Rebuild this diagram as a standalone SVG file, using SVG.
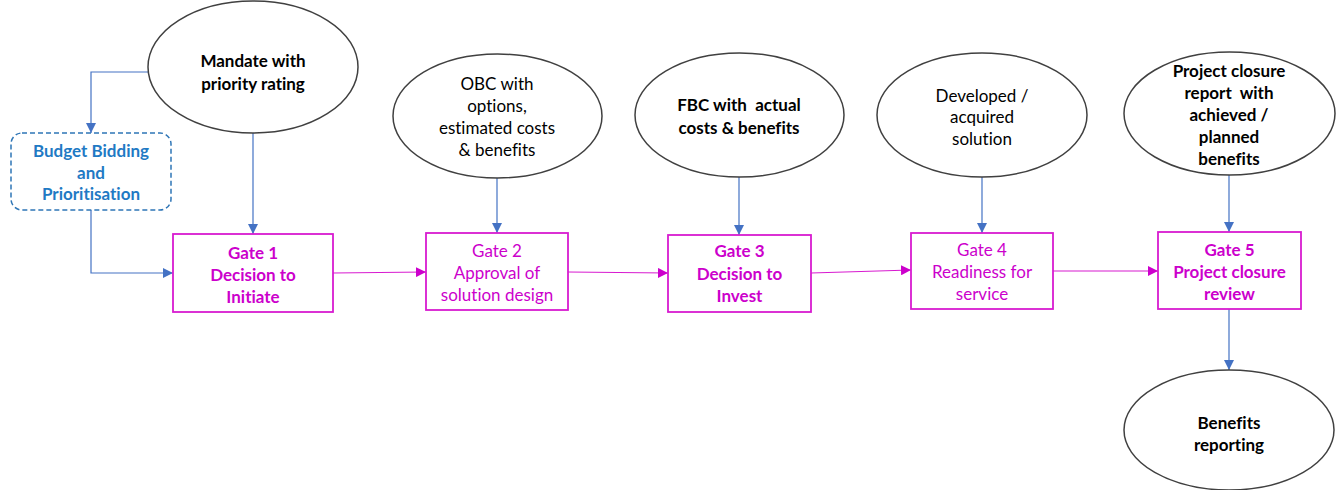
<svg xmlns="http://www.w3.org/2000/svg" width="1343" height="490" viewBox="0 0 1343 490">
<style>
text{font-family:Lato,"Open Sans","Liberation Sans",sans-serif;font-size:17px;text-anchor:middle;font-variant-ligatures:none}
.b{font-weight:bold}
.pre{white-space:pre}
.ell{fill:#fff;stroke:#404040;stroke-width:1.5}
.gate{fill:#fff;stroke:#D81BD0;stroke-width:1.8}
.gt{fill:#CC00CC}
.blue{stroke:#4472C4;stroke-width:1.2;fill:none}
.mag{stroke:#D81BD0;stroke-width:1.2;fill:none}
</style>
<defs>
<marker id="ab" viewBox="0 0 10 10" refX="10" refY="5" markerWidth="10" markerHeight="10" markerUnits="userSpaceOnUse" orient="auto"><path d="M0,0L10,5L0,10z" fill="#4472C4"/></marker>
<marker id="am" viewBox="0 0 10 10" refX="10" refY="5" markerWidth="10" markerHeight="10" markerUnits="userSpaceOnUse" orient="auto"><path d="M0,0L10,5L0,10z" fill="#CC00CC"/></marker>
</defs>
<g id="connectors">
<path class="blue" d="M148,72H91V133" marker-end="url(#ab)"/>
<path class="blue" d="M91,210V273H173" marker-end="url(#ab)"/>
<path class="blue" d="M253,133V234" marker-end="url(#ab)"/>
<path class="blue" d="M497,178V233" marker-end="url(#ab)"/>
<path class="blue" d="M739,177V235" marker-end="url(#ab)"/>
<path class="blue" d="M982,177V233" marker-end="url(#ab)"/>
<path class="blue" d="M1229,175V232" marker-end="url(#ab)"/>
<path class="blue" d="M1229,309V370" marker-end="url(#ab)"/>
<path class="mag" d="M333,273L426,272" marker-end="url(#am)"/>
<path class="mag" d="M568,272L668,273" marker-end="url(#am)"/>
<path class="mag" d="M811,273L911,270" marker-end="url(#am)"/>
<path class="mag" d="M1053,271H1158" marker-end="url(#am)"/>
</g>
<g id="mandate">
<ellipse class="ell" cx="253" cy="67" rx="105" ry="66"/>
<text class="b" x="253" y="67">Mandate with</text>
<text class="b" x="253" y="90">priority rating</text>
</g>
<g id="budget">
<rect x="11" y="133" width="160" height="77" rx="11" fill="#fff" stroke="#2E75B6" stroke-width="1.5" stroke-dasharray="5,3"/>
<text class="b" x="91" y="157" fill="#1F7AC4">Budget Bidding</text>
<text class="b" x="91" y="179" fill="#1F7AC4">and</text>
<text class="b" x="91" y="200" fill="#1F7AC4">Prioritisation</text>
</g>
<g id="obc">
<ellipse class="ell" cx="497.5" cy="116" rx="104.5" ry="62"/>
<text x="497" y="90">OBC with</text>
<text x="497" y="112">options,</text>
<text x="497" y="134">estimated costs</text>
<text x="497" y="156">&amp; benefits</text>
</g>
<g id="fbc">
<ellipse class="ell" cx="739.5" cy="115" rx="104.5" ry="62"/>
<text class="b pre" x="739" y="111">FBC with  actual</text>
<text class="b" x="739" y="134">costs &amp; benefits</text>
</g>
<g id="developed">
<ellipse class="ell" cx="982" cy="115" rx="105" ry="62"/>
<text x="982" y="102">Developed /</text>
<text x="982" y="123">acquired</text>
<text x="982" y="145">solution</text>
</g>
<g id="closure-report">
<ellipse class="ell" cx="1229.5" cy="113.5" rx="105.5" ry="61.5"/>
<text class="b" x="1229" y="77">Project closure</text>
<text class="b pre" x="1229" y="99">report  with</text>
<text class="b" x="1229" y="121">achieved /</text>
<text class="b" x="1229" y="143">planned</text>
<text class="b" x="1229" y="165">benefits</text>
</g>
<g id="benefits">
<ellipse class="ell" cx="1229" cy="430" rx="105" ry="60"/>
<text class="b" x="1229" y="429">Benefits</text>
<text class="b" x="1229" y="451">reporting</text>
</g>
<g id="gate1">
<rect class="gate" x="173" y="234" width="160" height="78"/>
<text class="b gt" x="253" y="259">Gate 1</text>
<text class="b gt" x="253" y="281">Decision to</text>
<text class="b gt" x="253" y="303">Initiate</text>
</g>
<g id="gate2">
<rect class="gate" x="426" y="233" width="142" height="77"/>
<text class="gt" x="497" y="257">Gate 2</text>
<text class="gt" x="497" y="279">Approval of</text>
<text class="gt" x="497" y="301">solution design</text>
</g>
<g id="gate3">
<rect class="gate" x="668" y="235" width="143" height="77"/>
<text class="b gt" x="739.5" y="257">Gate 3</text>
<text class="b gt" x="739.5" y="280">Decision to</text>
<text class="b gt" x="739.5" y="302">Invest</text>
</g>
<g id="gate4">
<rect class="gate" x="911" y="233" width="142" height="76"/>
<text class="gt" x="982" y="256">Gate 4</text>
<text class="gt" x="982" y="278">Readiness for</text>
<text class="gt" x="982" y="300">service</text>
</g>
<g id="gate5">
<rect class="gate" x="1158" y="232" width="143" height="77"/>
<text class="b gt" x="1229.5" y="256">Gate 5</text>
<text class="b gt" x="1229.5" y="278">Project closure</text>
<text class="b gt" x="1229.5" y="300">review</text>
</g>
</svg>
